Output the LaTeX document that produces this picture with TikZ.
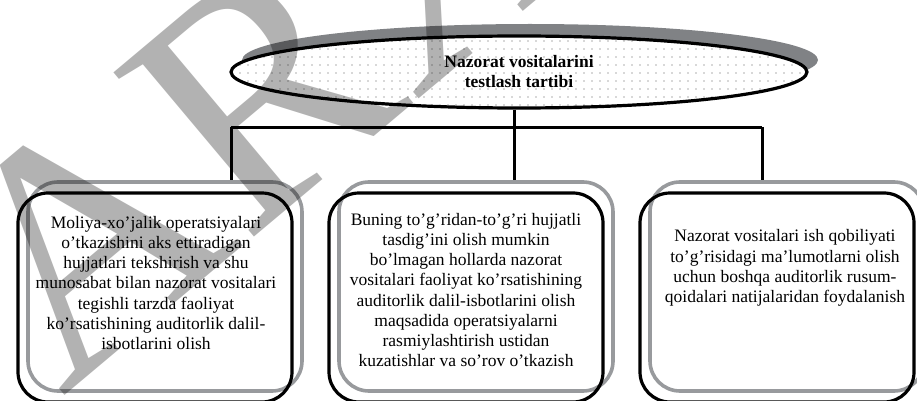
\documentclass[tikz,border=0pt]{standalone}
\usepackage{fontspec}
\setmainfont{Liberation Serif}
\usetikzlibrary{shapes.geometric,patterns.meta}

\definecolor{shadowgray}{RGB}{128,130,133}
\definecolor{framegray}{RGB}{152,154,157}

\begin{document}
\begin{tikzpicture}[x=1pt,y=-1pt,
  boxsize/.style={minimum width=274pt, minimum height=209pt, inner sep=0pt, rounded corners=30pt},
  blackframe/.style={boxsize, draw=black, line width=3.2pt},
  grayframe/.style={boxsize, draw=framegray, line width=3.6pt},
  body/.style={align=center, font=\fontsize{17.5}{20.2}\selectfont},
  link/.style={draw=black, line width=3pt},
  oval/.style={ellipse, minimum width=576pt, minimum height=72pt, inner sep=0pt}]

\useasboundingbox (0,0) rectangle (917,401);

% title oval with its offset shadow
\node[oval, fill=shadowgray] (shadow) at (530,60) {};
\node[oval, draw=black, line width=3.2pt, preaction={fill=white},
      pattern={Dots[distance=8pt,radius=0.6pt]}, pattern color=black!65,
      align=center, font=\bfseries\fontsize{17.5}{20}\selectfont] (title) at (519,72)
      {Nazorat vositalarini\\testlash tartibi};

% shadow frames (grey) and main frames (black)
\node[grayframe] (gl) at (165,286.5) {};
\node[grayframe] (gm) at (476,286.5) {};
\node[grayframe] (gr) at (787,286.5) {};
\node[blackframe] (bl) at (155,297.5) {};
\node[blackframe] (bm) at (466,297.5) {};
\node[blackframe] (br) at (777,297.5) {};

% box texts
\node[body] (tl) at (156,283) {Moliya-xo’jalik operatsiyalari\\o’tkazishini aks ettiradigan\\hujjatlari tekshirish va shu\\munosabat bilan nazorat vositalari\\tegishli tarzda faoliyat\\ko’rsatishining auditorlik dalil-\\isbotlarini olish};
\node[body] (tm) at (466,290) {Buning to’g’ridan-to’g’ri hujjatli\\tasdig’ini olish mumkin\\bo’lmagan hollarda nazorat\\vositalari faoliyat ko’rsatishining\\auditorlik dalil-isbotlarini olish\\maqsadida operatsiyalarni\\rasmiylashtirish ustidan\\kuzatishlar va so’rov o’tkazish};
\node[body] (tr) at (785,268) {Nazorat vositalari ish qobiliyati\\to’g’risidagi ma’lumotlarni olish\\uchun boshqa auditorlik rusum-\\qoidalari natijalaridan foydalanish};

% connectors
\coordinate (hub) at (514,127);
\coordinate (barL) at (231,127);
\coordinate (barR) at (762,127);
\draw[link] (title.south -| hub) -- (hub |- gm.north);
\draw[link] (barL) -- (barR);
\draw[link] (barL) -- (barL |- gl.north);
\draw[link] (barR) -- (barR |- gr.north);

% watermark
\node[rotate=40, anchor=base west, text=black, opacity=0.3,
      font=\fontsize{330}{330}\selectfont] (mark) at (60,400) {ARXIV.UZ};
\end{tikzpicture}
\end{document}
